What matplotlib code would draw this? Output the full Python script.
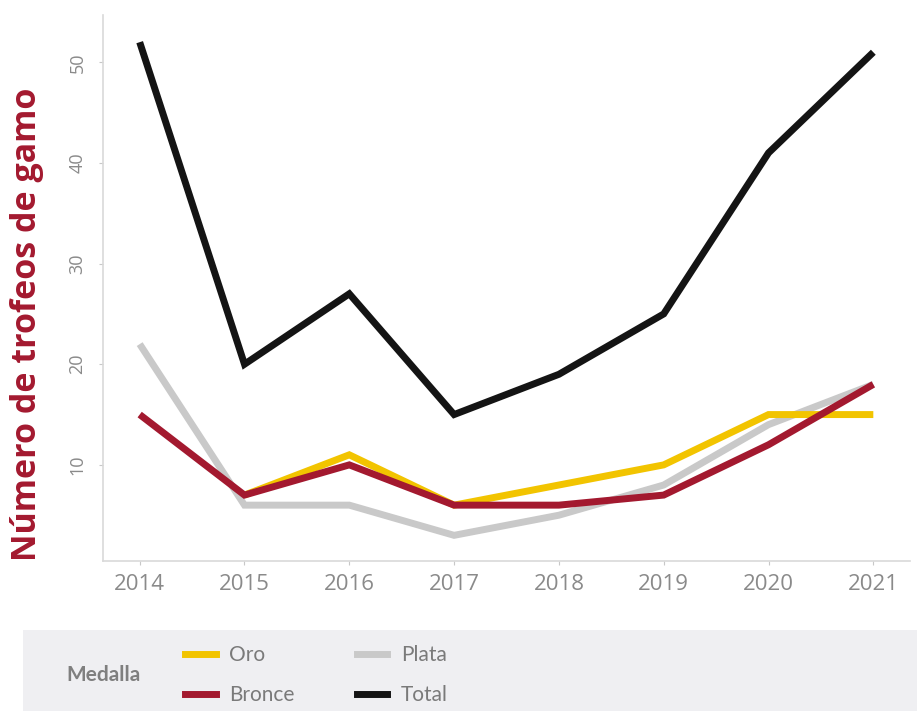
import numpy as np
import matplotlib
matplotlib.use('Agg')
import matplotlib.pyplot as plt
from matplotlib.lines import Line2D

plt.rcParams['font.family'] = ['Open Sans', 'DejaVu Sans']

years = [2014, 2015, 2016, 2017, 2018, 2019, 2020, 2021]
oro_years = [2015, 2016, 2017, 2018, 2019, 2020, 2021]
oro = [7, 11, 6, 8, 10, 15, 15]
plata = [22, 6, 6, 3, 5, 8, 14, 18]
bronce = [15, 7, 10, 6, 6, 7, 12, 18]
total = [52, 20, 27, 15, 19, 25, 41, 51]

series_names = ['Oro', 'Bronce', 'Plata', 'Total']
colors = {'Oro': '#f2c400', 'Plata': '#c9c9c9', 'Bronce': '#a3192f', 'Total': '#141414'}
red_label = '#a3192f'
grey_txt = '#8a8a8a'
leg_font = ['Lato', 'DejaVu Sans']

fig = plt.figure(figsize=(9.17, 7.11), dpi=100)
fig.patch.set_facecolor('white')
ax = fig.add_axes([103/917, 1-561/711, 807/917, 546/711])

lw = 5
kw = dict(lw=lw, solid_joinstyle='miter', solid_capstyle='butt')
ax.plot(years, plata, color=colors['Plata'], **kw)
ax.plot(oro_years, oro, color=colors['Oro'], **kw)
ax.plot(years, bronce, color=colors['Bronce'], **kw)
ax.plot(years, total, color=colors['Total'], **kw)

ax.set_xlim(2013.65, 2021.35)
ax.set_ylim(0.45, 54.7)
ax.set_xticks(years)
ax.set_yticks([10, 20, 30, 40, 50])
ax.tick_params(axis='both', colors='#c8c8c8', labelcolor=grey_txt, length=3)
ax.tick_params(axis='x', labelsize=16, pad=6)
ax.tick_params(axis='y', labelsize=13, pad=9)
for lab in ax.get_yticklabels():
    lab.set_rotation(90)
    lab.set_va('center')
for s in ['top', 'right']:
    ax.spines[s].set_visible(False)
for s in ['left', 'bottom']:
    ax.spines[s].set_color('#d9d9d9')
    ax.spines[s].set_linewidth(1.2)
fig.text(27/917, 1-324/711, 'Número de trofeos de gamo', rotation=90, ha='center',
         va='center', color=red_label, fontsize=24.5, fontweight='bold')

# legend panel
lax = fig.add_axes([23/917, 0, 1-23/917, 81/711])
lax.set_facecolor('#efeff2')
lax.set_xticks([])
lax.set_yticks([])
for s in lax.spines.values():
    s.set_visible(False)
lax.text(0.0895, 0.44, 'Medalla', transform=lax.transAxes, ha='center', va='center',
         fontsize=15, fontweight='bold', color='#7f7f7f', family=leg_font)
handles = [Line2D([], [], color=colors[n], lw=5) for n in series_names]
leg = lax.legend(handles, series_names, ncol=2, loc='center left',
                 bbox_to_anchor=(0.170, 0.44), frameon=False,
                 prop={'family': leg_font, 'size': 15},
                 handlelength=1.45, handletextpad=0.65, columnspacing=3.0,
                 labelspacing=0.95, borderpad=0)
for t in leg.get_texts():
    t.set_color('#7a7a7a')

fig.savefig('out.png', dpi=100)
